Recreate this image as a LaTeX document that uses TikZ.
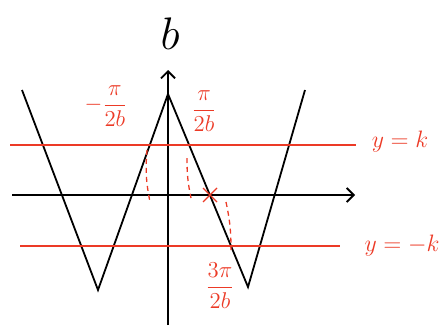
\documentclass[tikz,border=0pt]{standalone}
\usepackage{amsmath}
\usetikzlibrary{arrows.meta}
\definecolor{penred}{RGB}{236,58,38}
\tikzset{
    % black pen strokes
    axisline/.style={line width=1.8pt, black,
        -{Straight Barb[length=7pt,width=14pt,line width=1.8pt]}},
    graphline/.style={line width=1.8pt, black, line join=miter},
    % red pen strokes
    levelline/.style={line width=1.4pt, penred},
    dropline/.style={line width=1.3pt, penred, dash pattern=on 5pt off 4pt},
    redlabel/.style={text=penred, font=\Large, scale=1.65, transform shape, inner sep=1pt},
    fraclabel/.style={text=penred, font=\large, scale=1.9, transform shape, inner sep=1pt},
}

\begin{document}
\begin{tikzpicture}[x=1pt,y=-1pt]
    \useasboundingbox (0,0) rectangle (441,329);
    % axes
    \draw[axisline] (168,325) -- (168,70);
    \draw[axisline] (12,195) -- (355,195);
    \node[font=\huge, scale=2.2, transform shape, inner sep=0pt] (ylab) at (170,34) {$b$};
    % the W graph
    \coordinate (p0) at (22,90);
    \coordinate (p1) at (98,290);
    \coordinate (p2) at (168,94);
    \coordinate (p3) at (248,287);
    \coordinate (p4) at (305,90);
    \draw[graphline] (p0) -- (p1) -- (p2) -- (p3) -- (p4);
    % levels y=k and y=-k
    \draw[levelline] (10,145) -- (356,145);
    \draw[levelline] (20,246) -- (340,246);
    \node[redlabel] (kup) at (400,142) {$y=k$};
    \node[redlabel] (kdown) at (402,246) {$y=-k$};
    % drops to the x-axis
    \draw[dropline] (147,150) to[bend right=8] (150,202);
    \draw[dropline] (187,158) to[bend right=6] (191,198);
    \draw[dropline] (226,202) to[bend left=6] (231,250);
    % zero of the graph
    \draw[levelline] (203,188) -- (217,202);
    \draw[levelline] (203,202) -- (217,188);
    % labels on the x-axis
    \node[fraclabel] (lneg) at (106,106) {$-\dfrac{\pi}{2b}$};
    \node[fraclabel] (lpos) at (204,111) {$\dfrac{\pi}{2b}$};
    \node[fraclabel] (lthree) at (220,286) {$\dfrac{3\pi}{2b}$};
\end{tikzpicture}
\end{document}
